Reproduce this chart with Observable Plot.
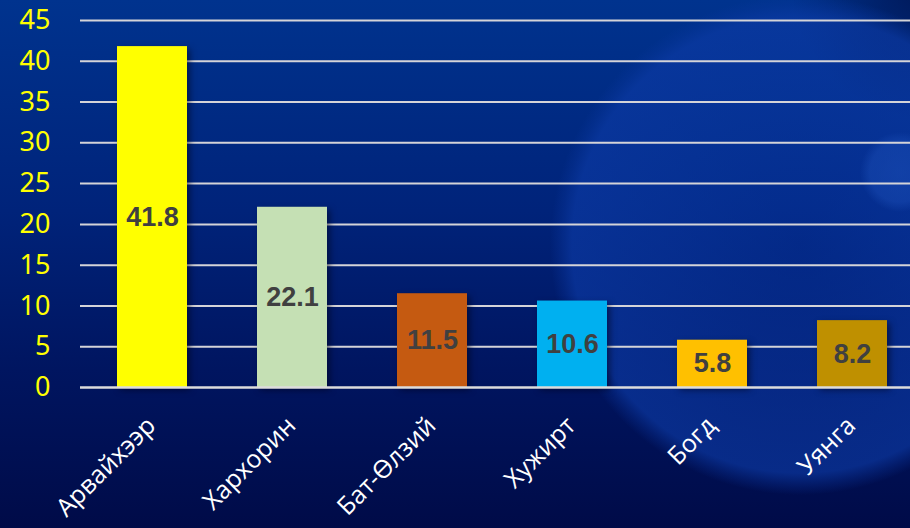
<!DOCTYPE html>
<html><head><meta charset="utf-8">
<script src="https://cdn.jsdelivr.net/npm/d3@7"></script>
<script src="https://cdn.jsdelivr.net/npm/@observablehq/plot@0.6"></script>
<style>
html,body{margin:0;padding:0;}
#wrap{width:910px;height:528px;position:relative;overflow:hidden;
background:
 radial-gradient(circle at 900px 172px, rgba(25,75,180,0.6) 0px, rgba(25,75,180,0.5) 30px, rgba(25,75,180,0) 40px),
 radial-gradient(circle at 800px 245px, rgba(8,55,165,0.4) 0px, rgba(12,58,165,0.65) 228px, rgba(10,55,160,0.3) 240px, rgba(10,55,160,0) 250px),
 radial-gradient(circle at 930px -20px, rgba(0,10,60,0.7) 0px, rgba(0,10,60,0) 140px),
 linear-gradient(180deg, #00338e 0%, #00237a 40%, #001560 70%, #000b48 100%);}
#wrap svg{position:absolute;left:0;top:0;}
.bar rect{filter: drop-shadow(3px 3px 3px rgba(0,0,20,0.5));}
</style></head>
<body><div id="wrap"></div>
<script>
const categories = ["Арвайхээр","Хархорин","Бат-Өлзий","Хужирт","Богд","Уянга"];
const values = [41.8, 22.1, 11.5, 10.6, 5.8, 8.2];
const colors = ["#ffff00","#c5e0b4","#c55a11","#00b0f0","#ffc000","#bf9000"];
const yTicks = [0,5,10,15,20,25,30,35,40,45];

const data = categories.map((c,i)=>({cat:c, value:values[i], color:colors[i]}));

const chart = Plot.plot({
  width: 910, height: 528,
  marginLeft: 80, marginRight: 0, marginTop: 20, marginBottom: 141,
  style: {background: "transparent", overflow: "visible"},
  x: {domain: categories, range: [80, 924], paddingInner: 0.5, paddingOuter: 0.25, axis: null},
  y: {domain: [0,45], axis: null},
  marks: [
    Plot.ruleY(yTicks.filter(d=>d>0), {y: d=>d, stroke: "#d4d4d8", strokeWidth: 2}),
    Plot.barY(data, {x: "cat", y: "value", fill: "color", className: "bar"}),
    Plot.ruleY([0], {stroke: "#dcdcdc", strokeWidth: 2.5}),
    Plot.text(yTicks, {y: d=>d, frameAnchor: "left", dx: -30, textAnchor: "end", text: d=>String(d),
      fill: "#ffff00", fontSize: 27, fontFamily: "Noto Sans"}),
    Plot.text(data, {x: "cat", y: d=>d.value/2, text: d=>d.value.toFixed(1), fill: "#404040",
      fontSize: 27, fontWeight: "bold", fontFamily: "Liberation Sans"}),
    Plot.text(data, {x: "cat", y: 0, dy: 34, dx: -1, text: "cat", rotate: -45, textAnchor: "end",
      fill: "#ffffff", fontSize: 25, fontFamily: "Open Sans"})
  ]
});
document.getElementById("wrap").appendChild(chart);
</script></body></html>
